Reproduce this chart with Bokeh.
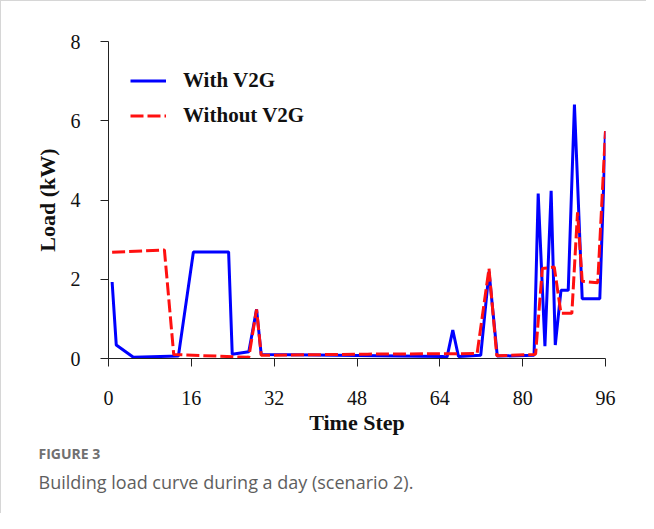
from bokeh.plotting import figure
from bokeh.models import Range1d, FixedTicker, Legend, LegendItem, Title
from bokeh.embed import file_html
from bokeh.resources import INLINE

# ---- data ----
with_x = [0.7, 1.5, 4.8, 13.5, 16.4, 23.2, 23.9, 27.1, 28.6, 29.5, 40, 52, 64.5, 65.4,
          66.5, 67.6, 71.9, 73.5, 75.1, 82.2, 83.0, 84.3, 85.5, 86.3, 87.4, 88.8,
          90.0, 91.5, 94.9, 96.0]
with_y = [1.93, 0.34, 0.03, 0.06, 2.69, 2.69, 0.11, 0.17, 1.24, 0.10, 0.09, 0.07, 0.05, 0.04,
          0.72, 0.05, 0.08, 2.19, 0.06, 0.08, 4.16, 0.31, 4.23, 0.34, 1.72, 1.72,
          6.41, 1.51, 1.51, 5.74]

without_x = [0.7, 10.8, 12.6, 27.1, 28.6, 29.5, 50, 71.2, 73.5, 75.0, 82.2, 82.5, 83.8,
             86.1, 87.4, 89.5, 90.6, 91.5, 94.5, 96.0]
without_y = [2.68, 2.74, 0.10, 0.03, 1.24, 0.08, 0.11, 0.125, 2.27, 0.07, 0.10, 0.11, 2.27,
             2.31, 1.14, 1.14, 3.69, 1.95, 1.91, 5.74]

x_ticks = [0, 16, 32, 48, 64, 80, 96]
y_ticks = [0, 2, 4, 6, 8]

series_names = ["With V2G", "Without V2G"]
x_label = "Time Step"
y_label = "Load (kW)"
caption_head = "FIGURE 3"
caption_text = "Building load curve during a day (scenario 2)."

SERIF = "Liberation Serif"

p = figure(width=646, height=513, output_backend="svg", toolbar_location=None,
           x_range=Range1d(0, 96), y_range=Range1d(0, 8),
           min_border_left=107, min_border_right=42, min_border_top=40,
           min_border_bottom=156)
p.styles = {"border-left": "1px solid #d6d6d6", "border-top": "1px solid #d6d6d6"}

p.grid.visible = False
p.outline_line_color = None

for ax in (p.xaxis[0], p.yaxis[0]):
    ax.major_label_text_font = SERIF
    ax.major_label_text_font_size = "20px"
    ax.major_label_text_color = "#111111"
    ax.axis_label_text_font = SERIF
    ax.axis_label_text_font_size = "22px"
    ax.axis_label_text_font_style = "bold"
    ax.axis_label_text_color = "#111111"
    ax.axis_line_color = "#222222"
    ax.major_tick_line_color = "#222222"
    ax.major_tick_in = 0
    ax.major_tick_out = 8
    ax.minor_tick_line_color = None

p.xaxis.ticker = FixedTicker(ticks=x_ticks)
p.yaxis.ticker = FixedTicker(ticks=y_ticks)
p.xaxis.major_label_standoff = 24
p.yaxis.major_label_standoff = 20
p.xaxis.axis_label = x_label
p.yaxis.axis_label = y_label
p.xaxis.axis_label_standoff = 2
p.yaxis.axis_label_standoff = 8

r1 = p.line(with_x, with_y, line_color="#0000ff", line_width=3)
r2 = p.line(without_x, without_y, line_color="#ff1010", line_width=3, line_dash="13 4")

legend = Legend(items=[LegendItem(label=series_names[0], renderers=[r1]),
                       LegendItem(label=series_names[1], renderers=[r2])],
                location="top_left", margin=0, padding=22, spacing=0,
                glyph_width=36, glyph_height=35, label_height=35, label_standoff=17,
                label_text_font=SERIF, label_text_font_size="21px",
                label_text_font_style="bold", label_text_color="#111111",
                background_fill_alpha=0, border_line_alpha=0)
p.add_layout(legend, "center")

t1 = Title(text=caption_head, align="left", offset=-70, standoff=9,
           text_font="Open Sans", text_font_size="14px", text_font_style="bold",
           text_color="#707070")
t2 = Title(text=caption_text, align="left", offset=-70, standoff=0,
           text_font="Open Sans", text_font_size="18px", text_font_style="normal",
           text_color="#5e5e5e")
p.add_layout(t1, "below")
p.add_layout(t2, "below")

open("out.html", "w").write(file_html(p, INLINE))
